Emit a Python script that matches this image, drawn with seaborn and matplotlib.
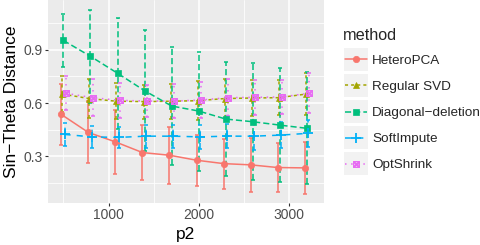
#!/usr/bin/env python3

import numpy as np
import pandas as pd
import seaborn as sns
import matplotlib
matplotlib.use("Agg")
import matplotlib.pyplot as plt
from matplotlib.path import Path
from matplotlib.ticker import MultipleLocator, FormatStrFormatter
from matplotlib.patches import Rectangle

# values
p2 = [500, 800, 1100, 1400, 1700, 2000, 2300, 2600, 2900, 3200]
methods = ["HeteroPCA", "Regular SVD", "Diagonal\u2212deletion", "SoftImpute", "OptShrink"]

hetero_mean = [0.536, 0.435, 0.382, 0.322, 0.307, 0.279, 0.260, 0.253, 0.238, 0.236]
hetero_sd = [0.169, 0.174, 0.178, 0.152, 0.160, 0.143, 0.140, 0.152, 0.135, 0.147]
svd_mean = [0.650, 0.625, 0.610, 0.608, 0.610, 0.613, 0.625, 0.628, 0.630, 0.650]
svd_sd = [0.100, 0.110, 0.100, 0.095, 0.098, 0.108, 0.110, 0.100, 0.100, 0.118]
diag_mean = [0.951, 0.862, 0.767, 0.669, 0.583, 0.555, 0.510, 0.495, 0.476, 0.458]
diag_sd = [0.150, 0.260, 0.310, 0.340, 0.330, 0.334, 0.322, 0.328, 0.319, 0.315]
soft_mean = [0.424, 0.410, 0.407, 0.414, 0.414, 0.410, 0.414, 0.414, 0.420, 0.430]
soft_sd = [0.063, 0.060, 0.060, 0.065, 0.065, 0.068, 0.068, 0.075, 0.075, 0.075]
opt_mean = [0.655, 0.630, 0.615, 0.611, 0.611, 0.617, 0.630, 0.632, 0.634, 0.655]
opt_sd = [0.095, 0.105, 0.097, 0.092, 0.095, 0.103, 0.105, 0.097, 0.097, 0.112]

means = [hetero_mean, svd_mean, diag_mean, soft_mean, opt_mean]
sds = [hetero_sd, svd_sd, diag_sd, soft_sd, opt_sd]

# ggplot-like styling
colors = ["#F8766D", "#A3A500", "#00BF7D", "#00B0F6", "#E76BF3"]
dash_list = ["", (2, 2), (4, 2), (4, 4), (1, 3)]
sq_x = Path([(-1, -1), (1, -1), (1, 1), (-1, 1), (-1, -1),
             (-1, -1), (1, 1), (-1, 1), (1, -1)],
            [Path.MOVETO, Path.LINETO, Path.LINETO, Path.LINETO, Path.CLOSEPOLY,
             Path.MOVETO, Path.LINETO, Path.MOVETO, Path.LINETO])
marker_list = ["o", "^", "s", "+", sq_x]
dodge = [-24, -12, 0, 12, 24]

rows = []
for m, mean, sd, off in zip(methods, means, sds, dodge):
    for x, y, s in zip(p2, mean, sd):
        rows.append({"method": m, "p2": x, "xd": x + off, "mean": y, "sd": s})
df = pd.DataFrame(rows)

sns.set_style("white")
plt.rcParams["font.family"] = ["Liberation Sans", "DejaVu Sans"]

W, H = 481, 245
fig = plt.figure(figsize=(W / 100, H / 100), dpi=100)
ax = fig.add_axes([48 / W, 1 - 203 / H, (324 - 48) / W, 203 / H])
ax.set_facecolor("#EBEBEB")

lw = 1.1


def style_marker(line, mk, c):
    line.set_marker(mk)
    line.set_markeredgecolor(c)
    if mk == "+":
        line.set_markeredgewidth(1.3)
        line.set_markersize(7)
    elif mk is sq_x:
        line.set_markerfacecolor("none")
        line.set_markeredgewidth(1.0)
        line.set_markersize(4)
    else:
        line.set_markerfacecolor(c)
        line.set_markeredgewidth(0.5)
        line.set_markersize(4.6)


sns.lineplot(data=df, x="xd", y="mean", hue="method", style="method",
             hue_order=methods, style_order=methods,
             palette=dict(zip(methods, colors)),
             dashes=dict(zip(methods, dash_list)),
             linewidth=lw, errorbar=None, legend=False, ax=ax)

mean_lines = list(ax.get_lines())
for line, c, mk in zip(mean_lines, colors, marker_list):
    line.set_zorder(3)
    style_marker(line, mk, c)

# error bars (mean +/- sd), same line type as each method
for i, m in enumerate(methods):
    sub = df[df.method == m]
    eb = ax.errorbar(sub.xd, sub["mean"], yerr=sub["sd"], fmt="none",
                     ecolor=colors[i], elinewidth=lw, capsize=1.7, capthick=lw, zorder=2)
    if dash_list[i]:
        for coll in eb[2]:
            coll.set_linestyle((0, dash_list[i]))

ax.set_xlim(329, 3389)
ax.set_ylim(0.039, 1.178)
ax.xaxis.set_major_locator(MultipleLocator(1000))
ax.xaxis.set_minor_locator(MultipleLocator(500))
ax.yaxis.set_major_locator(MultipleLocator(0.3))
ax.yaxis.set_minor_locator(MultipleLocator(0.15))
ax.grid(which="major", color="white", linewidth=1.1)
ax.grid(which="minor", color="white", linewidth=0.55)
ax.set_axisbelow(True)
for s in ax.spines.values():
    s.set_visible(False)
ax.tick_params(which="major", length=2.4, width=0.8, color="#333333",
               labelcolor="#4D4D4D", labelsize=10, pad=1.5,
               bottom=True, left=True)
ax.tick_params(which="minor", length=0)
ax.yaxis.set_major_formatter(FormatStrFormatter("%.1f"))
ax.set_xlabel("p2", fontsize=12.5, labelpad=3, color="black")
ax.set_ylabel("Sin\u2212Theta Distance", fontsize=12.5, labelpad=3, color="black")

# legend drawn by hand in pixel coordinates
lg = fig.add_axes([0, 0, 1, 1])
lg.set_xlim(0, W)
lg.set_ylim(H, 0)
lg.axis("off")
lg.text(343, 40, "method", fontsize=11.7, va="baseline", ha="left")
for i, m in enumerate(methods):
    yc = 59.5 + 26 * i
    lg.add_patch(Rectangle((344, yc - 11.5), 24, 23, facecolor="#F2F2F2", edgecolor="none"))
    ls = "-" if not dash_list[i] else (0, dash_list[i])
    lg.plot([345, 367], [yc, yc], color=colors[i], linewidth=lw, linestyle=ls)
    key, = lg.plot([356], [yc], color=colors[i], linestyle="none")
    style_marker(key, marker_list[i], colors[i])
    lg.text(372, yc + 4.6, m, fontsize=9.7, va="baseline", ha="left")

fig.savefig("out.png", dpi=100)
